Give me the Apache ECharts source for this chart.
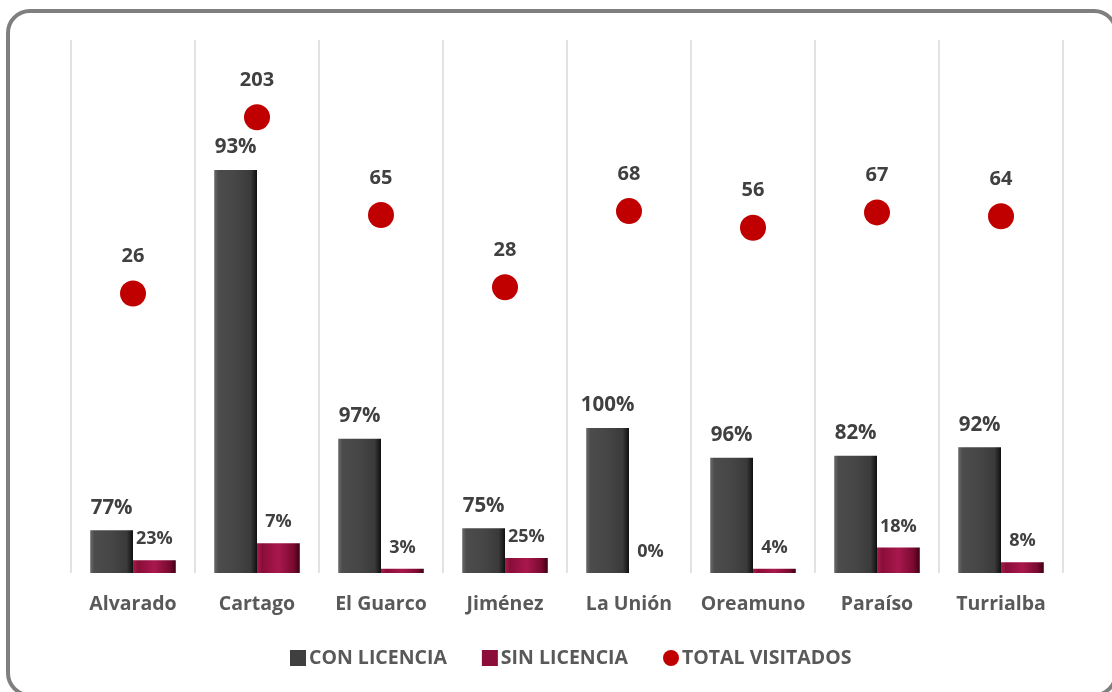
<!DOCTYPE html>
<html>
<head>
<meta charset="utf-8">
<script src="https://cdn.jsdelivr.net/npm/echarts@6/dist/echarts.min.js"></script>
<style>
  html, body { margin: 0; padding: 0; background: #fff; overflow: hidden; }
  #frame { position: absolute; left: 6px; top: 9px; width: 1112px; height: 688px; border: 4px solid #7f7f7f; border-radius: 24px; box-sizing: border-box; }
  #chart { position: absolute; left: 0; top: 0; width: 1112px; height: 692px; }
</style>
</head>
<body>
<div id="frame"></div>
<div id="chart"></div>
<script>
const categories = ['Alvarado', 'Cartago', 'El Guarco', 'Jiménez', 'La Unión', 'Oreamuno', 'Paraíso', 'Turrialba'];
const conLicencia = [20, 189, 63, 21, 68, 54, 55, 59];
const sinLicencia = [6, 14, 2, 7, 0, 2, 12, 5];
const conPct = ['77%', '93%', '97%', '75%', '100%', '96%', '82%', '92%'];
const sinPct = ['23%', '7%', '3%', '25%', '0%', '4%', '18%', '8%'];
const totalVisitados = [26, 203, 65, 28, 68, 56, 67, 64];

const FONT = '"Open Sans", "DejaVu Sans", sans-serif';

function hGrad(stops) {
  return new echarts.graphic.LinearGradient(0, 0, 1, 0, stops.map(c => ({ offset: c[0], color: c[1] })));
}
const conColor = hGrad([[0, '#6a6a6a'], [0.1, '#4c4c4c'], [0.5, '#464646'], [0.85, '#3a3a3a'], [1, '#101010']]);
const sinColor = hGrad([[0, '#a81c4c'], [0.12, '#8a0d38'], [0.5, '#a8184d'], [0.85, '#7a0a30'], [1, '#3e0016']]);

const chart = echarts.init(document.getElementById('chart'), null, { renderer: 'canvas' });
chart.setOption({
  animation: false,
  backgroundColor: 'transparent',
  grid: { left: 71, right: 49, top: 40, bottom: 119, containLabel: false },
  legend: {
    top: 643,
    left: 285,
    itemGap: 35,
    itemWidth: 16,
    itemHeight: 16,
    textStyle: { fontFamily: FONT, fontWeight: 'bold', fontSize: 19.5, color: '#595959', padding: [0, 0, 0, -2] },
    data: [
      { name: 'CON LICENCIA', icon: 'rect', itemStyle: { color: '#3f3f3f' } },
      { name: 'SIN LICENCIA', icon: 'rect', itemStyle: { color: '#8c0d3a' } },
      { name: 'TOTAL VISITADOS', icon: 'circle', itemStyle: { color: '#c00000' } }
    ]
  },
  xAxis: {
    type: 'category',
    data: categories,
    axisLine: { show: false },
    axisTick: { show: false },
    axisLabel: { interval: 0, fontFamily: FONT, fontWeight: 'bold', fontSize: 19.5, color: '#595959', margin: 21 },
    splitLine: { show: true, interval: 0, lineStyle: { color: '#d9d9d9', width: 1.5 } }
  },
  yAxis: [
    { type: 'value', min: 0, max: 250, show: false, splitLine: { show: false } },
    { type: 'log', logBase: 10, min: 1, max: 500, show: false, splitLine: { show: false } }
  ],
  series: [
    {
      name: 'CON LICENCIA',
      type: 'bar',
      data: conLicencia,
      barGap: '0%',
      barCategoryGap: '31%',
      itemStyle: { color: conColor },
      label: {
        show: true, position: 'top', distance: 12,
        fontFamily: FONT, fontWeight: 'bold', fontSize: 20.5, color: '#404040',
        formatter: p => conPct[p.dataIndex]
      }
    },
    {
      name: 'SIN LICENCIA',
      type: 'bar',
      data: sinLicencia,
      itemStyle: { color: sinColor },
      label: {
        show: true, position: 'top', distance: 12,
        fontFamily: FONT, fontWeight: 'bold', fontSize: 18, color: '#404040',
        formatter: p => sinPct[p.dataIndex]
      }
    },
    {
      name: 'TOTAL VISITADOS',
      type: 'scatter',
      yAxisIndex: 1,
      data: totalVisitados,
      symbol: 'circle',
      symbolSize: 26,
      itemStyle: { color: '#c00000', opacity: 1 },
      label: {
        show: true, position: 'top', distance: 14,
        fontFamily: FONT, fontWeight: 'bold', fontSize: 20, color: '#404040'
      }
    }
  ]
});
</script>
</body>
</html>
